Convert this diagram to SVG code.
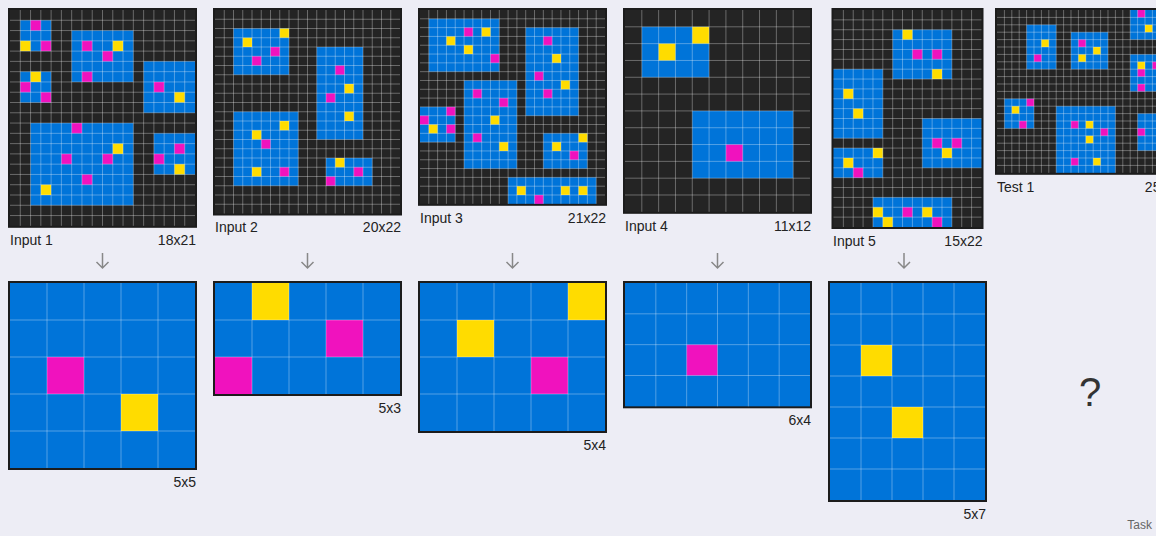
<svg xmlns="http://www.w3.org/2000/svg" width="1156" height="536" viewBox="0 0 1156 536">
<style>
.bg{fill:#ededf5}
.fr{fill:#1c1c1c}
.k{fill:#242424}
.b{fill:#0074D9}
.m{fill:#F012BE}
.y{fill:#FFDC00}
.gl{fill:none;stroke:#fff;stroke-opacity:.32;stroke-width:1;vector-effect:non-scaling-stroke}
.lb{font-family:"Liberation Sans",Arial,sans-serif;font-size:14px;fill:#222}
.r{text-anchor:end}
.ar{fill:none;stroke:#888;stroke-width:1.5}
</style>
<rect class="bg" width="1156" height="536"/>

<g id="in1">
<rect class="fr" x="8" y="8" width="189" height="219.8"/>
<g transform="translate(10,10) scale(10.2778)">
<rect class="k" width="18" height="21"/>
<rect class="b" x="1" y="1" width="3" height="3"/>
<rect class="b" x="6" y="2" width="6" height="5"/>
<rect class="b" x="1" y="6" width="3" height="3"/>
<rect class="b" x="13" y="5" width="5" height="5"/>
<rect class="b" x="2" y="11" width="10" height="8"/>
<rect class="b" x="14" y="12" width="4" height="4"/>
<rect class="m" x="2" y="1" width="1" height="1"/><rect class="m" x="3" y="3" width="1" height="1"/><rect class="m" x="7" y="3" width="1" height="1"/><rect class="m" x="9" y="4" width="1" height="1"/><rect class="m" x="7" y="6" width="1" height="1"/><rect class="m" x="1" y="7" width="1" height="1"/><rect class="m" x="3" y="8" width="1" height="1"/><rect class="m" x="14" y="7" width="1" height="1"/><rect class="m" x="6" y="11" width="1" height="1"/><rect class="m" x="5" y="14" width="1" height="1"/><rect class="m" x="9" y="14" width="1" height="1"/><rect class="m" x="7" y="16" width="1" height="1"/><rect class="m" x="16" y="13" width="1" height="1"/><rect class="m" x="14" y="14" width="1" height="1"/>
<rect class="y" x="1" y="3" width="1" height="1"/><rect class="y" x="10" y="3" width="1" height="1"/><rect class="y" x="2" y="6" width="1" height="1"/><rect class="y" x="16" y="8" width="1" height="1"/><rect class="y" x="10" y="13" width="1" height="1"/><rect class="y" x="3" y="17" width="1" height="1"/><rect class="y" x="16" y="15" width="1" height="1"/>
<path class="gl" d="M1,0V21M2,0V21M3,0V21M4,0V21M5,0V21M6,0V21M7,0V21M8,0V21M9,0V21M10,0V21M11,0V21M12,0V21M13,0V21M14,0V21M15,0V21M16,0V21M17,0V21M0,1H18M0,2H18M0,3H18M0,4H18M0,5H18M0,6H18M0,7H18M0,8H18M0,9H18M0,10H18M0,11H18M0,12H18M0,13H18M0,14H18M0,15H18M0,16H18M0,17H18M0,18H18M0,19H18M0,20H18"/>
</g>
<text class="lb" x="10" y="245">Input 1</text>
<text class="lb r" x="196" y="245">18x21</text>
</g>

<g id="in2">
<rect class="fr" x="213" y="8" width="189" height="207.5"/>
<g transform="translate(215,10) scale(9.25)">
<rect class="k" width="20" height="22"/>
<rect class="b" x="2" y="2" width="6" height="5"/>
<rect class="b" x="11" y="4" width="5" height="10"/>
<rect class="b" x="2" y="11" width="7" height="8"/>
<rect class="b" x="12" y="16" width="5" height="3"/>
<rect class="y" x="7" y="2" width="1" height="1"/><rect class="y" x="3" y="3" width="1" height="1"/><rect class="y" x="14" y="8" width="1" height="1"/><rect class="y" x="14" y="11" width="1" height="1"/><rect class="y" x="7" y="12" width="1" height="1"/><rect class="y" x="4" y="13" width="1" height="1"/><rect class="y" x="4" y="17" width="1" height="1"/><rect class="y" x="13" y="16" width="1" height="1"/>
<rect class="m" x="6" y="4" width="1" height="1"/><rect class="m" x="4" y="5" width="1" height="1"/><rect class="m" x="13" y="6" width="1" height="1"/><rect class="m" x="12" y="9" width="1" height="1"/><rect class="m" x="5" y="14" width="1" height="1"/><rect class="m" x="7" y="17" width="1" height="1"/><rect class="m" x="15" y="17" width="1" height="1"/><rect class="m" x="12" y="18" width="1" height="1"/>
<path class="gl" d="M1,0V22M2,0V22M3,0V22M4,0V22M5,0V22M6,0V22M7,0V22M8,0V22M9,0V22M10,0V22M11,0V22M12,0V22M13,0V22M14,0V22M15,0V22M16,0V22M17,0V22M18,0V22M19,0V22M0,1H20M0,2H20M0,3H20M0,4H20M0,5H20M0,6H20M0,7H20M0,8H20M0,9H20M0,10H20M0,11H20M0,12H20M0,13H20M0,14H20M0,15H20M0,16H20M0,17H20M0,18H20M0,19H20M0,20H20M0,21H20"/>
</g>
<text class="lb" x="215" y="232">Input 2</text>
<text class="lb r" x="401" y="232">20x22</text>
</g>

<g id="in3">
<rect class="fr" x="418" y="8" width="189" height="197.8"/>
<g transform="translate(420,10) scale(8.8095)">
<rect class="k" width="21" height="22"/>
<rect class="b" x="1" y="1" width="8" height="6"/>
<rect class="b" x="12" y="2" width="6" height="10"/>
<rect class="b" x="5" y="8" width="6" height="10"/>
<rect class="b" x="0" y="11" width="4" height="4"/>
<rect class="b" x="14" y="14" width="5" height="4"/>
<rect class="b" x="10" y="19" width="10" height="3"/>
<rect class="y" x="7" y="2" width="1" height="1"/><rect class="y" x="3" y="3" width="1" height="1"/><rect class="y" x="5" y="4" width="1" height="1"/><rect class="y" x="15" y="5" width="1" height="1"/><rect class="y" x="16" y="8" width="1" height="1"/><rect class="y" x="8" y="12" width="1" height="1"/><rect class="y" x="9" y="15" width="1" height="1"/><rect class="y" x="1" y="13" width="1" height="1"/><rect class="y" x="18" y="14" width="1" height="1"/><rect class="y" x="15" y="15" width="1" height="1"/><rect class="y" x="11" y="20" width="1" height="1"/><rect class="y" x="16" y="20" width="1" height="1"/><rect class="y" x="18" y="20" width="1" height="1"/>
<rect class="m" x="5" y="2" width="1" height="1"/><rect class="m" x="8" y="5" width="1" height="1"/><rect class="m" x="14" y="3" width="1" height="1"/><rect class="m" x="13" y="7" width="1" height="1"/><rect class="m" x="14" y="9" width="1" height="1"/><rect class="m" x="6" y="9" width="1" height="1"/><rect class="m" x="9" y="10" width="1" height="1"/><rect class="m" x="6" y="14" width="1" height="1"/><rect class="m" x="3" y="11" width="1" height="1"/><rect class="m" x="0" y="12" width="1" height="1"/><rect class="m" x="3" y="13" width="1" height="1"/><rect class="m" x="17" y="16" width="1" height="1"/><rect class="m" x="13" y="21" width="1" height="1"/>
<path class="gl" d="M1,0V22M2,0V22M3,0V22M4,0V22M5,0V22M6,0V22M7,0V22M8,0V22M9,0V22M10,0V22M11,0V22M12,0V22M13,0V22M14,0V22M15,0V22M16,0V22M17,0V22M18,0V22M19,0V22M20,0V22M0,1H21M0,2H21M0,3H21M0,4H21M0,5H21M0,6H21M0,7H21M0,8H21M0,9H21M0,10H21M0,11H21M0,12H21M0,13H21M0,14H21M0,15H21M0,16H21M0,17H21M0,18H21M0,19H21M0,20H21M0,21H21"/>
</g>
<text class="lb" x="420" y="223">Input 3</text>
<text class="lb r" x="606" y="223">21x22</text>
</g>

<g id="in4">
<rect class="fr" x="623" y="8" width="189" height="205.8"/>
<g transform="translate(625,10) scale(16.818)">
<rect class="k" width="11" height="12"/>
<rect class="b" x="1" y="1" width="4" height="3"/>
<rect class="b" x="4" y="6" width="6" height="4"/>
<rect class="y" x="4" y="1" width="1" height="1"/><rect class="y" x="2" y="2" width="1" height="1"/>
<rect class="m" x="6" y="8" width="1" height="1"/>
<path class="gl" d="M1,0V12M2,0V12M3,0V12M4,0V12M5,0V12M6,0V12M7,0V12M8,0V12M9,0V12M10,0V12M0,1H11M0,2H11M0,3H11M0,4H11M0,5H11M0,6H11M0,7H11M0,8H11M0,9H11M0,10H11M0,11H11"/>
</g>
<text class="lb" x="625" y="231">Input 4</text>
<text class="lb r" x="811" y="231">11x12</text>
</g>

<g id="in5">
<rect class="fr" x="831.5" y="8" width="152" height="221"/>
<g transform="translate(833.5,10) scale(9.8636)">
<rect class="k" width="15" height="22"/>
<rect class="b" x="6" y="2" width="6" height="5"/>
<rect class="b" x="0" y="6" width="5" height="7"/>
<rect class="b" x="9" y="11" width="6" height="5"/>
<rect class="b" x="0" y="14" width="5" height="3"/>
<rect class="b" x="4" y="19" width="8" height="3"/>
<rect class="y" x="7" y="2" width="1" height="1"/><rect class="y" x="10" y="6" width="1" height="1"/><rect class="y" x="1" y="8" width="1" height="1"/><rect class="y" x="2" y="10" width="1" height="1"/><rect class="y" x="11" y="14" width="1" height="1"/><rect class="y" x="4" y="14" width="1" height="1"/><rect class="y" x="1" y="15" width="1" height="1"/><rect class="y" x="4" y="20" width="1" height="1"/><rect class="y" x="9" y="20" width="1" height="1"/><rect class="y" x="5" y="21" width="1" height="1"/>
<rect class="m" x="8" y="4" width="1" height="1"/><rect class="m" x="10" y="4" width="1" height="1"/><rect class="m" x="10" y="13" width="1" height="1"/><rect class="m" x="12" y="13" width="1" height="1"/><rect class="m" x="2" y="16" width="1" height="1"/><rect class="m" x="7" y="20" width="1" height="1"/><rect class="m" x="10" y="21" width="1" height="1"/>
<path class="gl" d="M1,0V22M2,0V22M3,0V22M4,0V22M5,0V22M6,0V22M7,0V22M8,0V22M9,0V22M10,0V22M11,0V22M12,0V22M13,0V22M14,0V22M0,1H15M0,2H15M0,3H15M0,4H15M0,5H15M0,6H15M0,7H15M0,8H15M0,9H15M0,10H15M0,11H15M0,12H15M0,13H15M0,14H15M0,15H15M0,16H15M0,17H15M0,18H15M0,19H15M0,20H15M0,21H15"/>
</g>
<text class="lb" x="833" y="246">Input 5</text>
<text class="lb r" x="982.5" y="246">15x22</text>
</g>

<g id="test1">
<rect class="fr" x="995" y="8" width="189" height="166.8"/>
<g transform="translate(997,10) scale(7.4)">
<rect class="k" width="25" height="22"/>
<rect class="b" x="4" y="2" width="4" height="6"/>
<rect class="b" x="10" y="3" width="5" height="5"/>
<rect class="b" x="18" y="0" width="5" height="4"/>
<rect class="b" x="18" y="6" width="5" height="5"/>
<rect class="b" x="1" y="12" width="4" height="4"/>
<rect class="b" x="8" y="13" width="8" height="9"/>
<rect class="b" x="19" y="14" width="4" height="5"/>
<rect class="y" x="6" y="4" width="1" height="1"/><rect class="y" x="13" y="5" width="1" height="1"/><rect class="y" x="11" y="6" width="1" height="1"/><rect class="y" x="20" y="2" width="1" height="1"/><rect class="y" x="19" y="7" width="1" height="1"/><rect class="y" x="2" y="13" width="1" height="1"/><rect class="y" x="12" y="15" width="1" height="1"/><rect class="y" x="12" y="17" width="1" height="1"/><rect class="y" x="13" y="20" width="1" height="1"/>
<rect class="m" x="5" y="6" width="1" height="1"/><rect class="m" x="11" y="4" width="1" height="1"/><rect class="m" x="19" y="0" width="1" height="1"/><rect class="m" x="21" y="7" width="1" height="1"/><rect class="m" x="19" y="8" width="1" height="1"/><rect class="m" x="19" y="10" width="1" height="1"/><rect class="m" x="4" y="12" width="1" height="1"/><rect class="m" x="3" y="15" width="1" height="1"/><rect class="m" x="10" y="15" width="1" height="1"/><rect class="m" x="14" y="16" width="1" height="1"/><rect class="m" x="10" y="20" width="1" height="1"/><rect class="m" x="19" y="16" width="1" height="1"/>
<path class="gl" d="M1,0V22M2,0V22M3,0V22M4,0V22M5,0V22M6,0V22M7,0V22M8,0V22M9,0V22M10,0V22M11,0V22M12,0V22M13,0V22M14,0V22M15,0V22M16,0V22M17,0V22M18,0V22M19,0V22M20,0V22M21,0V22M22,0V22M23,0V22M24,0V22M0,1H25M0,2H25M0,3H25M0,4H25M0,5H25M0,6H25M0,7H25M0,8H25M0,9H25M0,10H25M0,11H25M0,12H25M0,13H25M0,14H25M0,15H25M0,16H25M0,17H25M0,18H25M0,19H25M0,20H25M0,21H25"/>
</g>
<text class="lb" x="997" y="192">Test 1</text>
<text class="lb r" x="1183" y="192">25x22</text>
</g>

<g id="out1">
<rect class="fr" x="8" y="281" width="189" height="189"/>
<g transform="translate(10,283) scale(37)">
<rect class="b" width="5" height="5"/>
<rect class="m" x="1" y="2" width="1" height="1"/>
<rect class="y" x="3" y="3" width="1" height="1"/>
<path class="gl" d="M1,0V5M2,0V5M3,0V5M4,0V5M0,1H5M0,2H5M0,3H5M0,4H5"/>
</g>
<text class="lb r" x="196" y="487">5x5</text>
</g>

<g id="out2">
<rect class="fr" x="213" y="281" width="189" height="115"/>
<g transform="translate(215,283) scale(37)">
<rect class="b" width="5" height="3"/>
<rect class="y" x="1" y="0" width="1" height="1"/>
<rect class="m" x="3" y="1" width="1" height="1"/>
<rect class="m" x="0" y="2" width="1" height="1"/>
<path class="gl" d="M1,0V3M2,0V3M3,0V3M4,0V3M0,1H5M0,2H5"/>
</g>
<text class="lb r" x="401" y="413">5x3</text>
</g>

<g id="out3">
<rect class="fr" x="418" y="281" width="189" height="152"/>
<g transform="translate(420,283) scale(37)">
<rect class="b" width="5" height="4"/>
<rect class="y" x="4" y="0" width="1" height="1"/>
<rect class="y" x="1" y="1" width="1" height="1"/>
<rect class="m" x="3" y="2" width="1" height="1"/>
<path class="gl" d="M1,0V4M2,0V4M3,0V4M4,0V4M0,1H5M0,2H5M0,3H5"/>
</g>
<text class="lb r" x="606" y="450">5x4</text>
</g>

<g id="out4">
<rect class="fr" x="623" y="281" width="189" height="127.3"/>
<g transform="translate(625,283) scale(30.8333)">
<rect class="b" width="6" height="4"/>
<rect class="m" x="2" y="2" width="1" height="1"/>
<path class="gl" d="M1,0V4M2,0V4M3,0V4M4,0V4M5,0V4M0,1H6M0,2H6M0,3H6"/>
</g>
<text class="lb r" x="811" y="425">6x4</text>
</g>

<g id="out5">
<rect class="fr" x="828" y="281" width="159" height="221"/>
<g transform="translate(830,283) scale(31)">
<rect class="b" width="5" height="7"/>
<rect class="y" x="1" y="2" width="1" height="1"/>
<rect class="y" x="2" y="4" width="1" height="1"/>
<path class="gl" d="M1,0V7M2,0V7M3,0V7M4,0V7M0,1H5M0,2H5M0,3H5M0,4H5M0,5H5M0,6H5"/>
</g>
<text class="lb r" x="986" y="519">5x7</text>
</g>

<g id="unknown">
<text x="1090" y="406" text-anchor="middle" style="font-family:'Liberation Sans',Arial,sans-serif;font-size:40px;fill:#333">?</text>
</g>

<g id="connectors">
<path class="ar" d="M102.5,253V268M96.5,262L102.5,268L108.5,262"/>
<path class="ar" d="M307.5,253V268M301.5,262L307.5,268L313.5,262"/>
<path class="ar" d="M512.5,253V268M506.5,262L512.5,268L518.5,262"/>
<path class="ar" d="M717.5,253V268M711.5,262L717.5,268L723.5,262"/>
<path class="ar" d="M904,253V268M898,262L904,268L910,262"/>
</g>

<text x="1152" y="529" text-anchor="end" style="font-family:'Liberation Sans',Arial,sans-serif;font-size:12px;fill:#666">Task</text>
</svg>
